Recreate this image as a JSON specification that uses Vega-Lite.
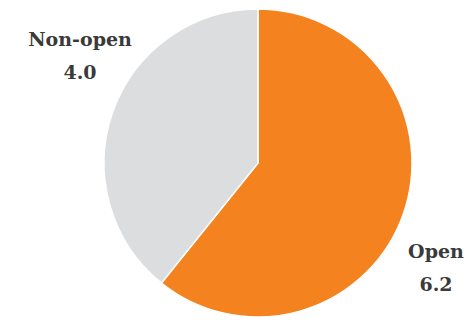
{
  "$schema": "https://vega.github.io/schema/vega-lite/v6.json",
  "autosize": "none",
  "width": 418,
  "height": 320,
  "padding": {"left": 49, "top": 3, "right": 0, "bottom": 0},
  "background": "white",
  "config": {"view": {"stroke": null}},
  "data": {
    "values": [
      {"category": "Open", "value": 6.2},
      {"category": "Non-open", "value": 4.0}
    ]
  },
  "layer": [
    {
      "mark": {"type": "arc", "outerRadius": 154, "stroke": "white", "strokeWidth": 1.5},
      "encoding": {
        "theta": {"field": "value", "type": "quantitative", "stack": true},
        "order": {"field": "value", "type": "quantitative", "sort": "descending"},
        "color": {
          "field": "category",
          "type": "nominal",
          "scale": {"domain": ["Open", "Non-open"], "range": ["#F4831F", "#DCDDDE"]},
          "legend": null
        }
      }
    },
    {
      "transform": [
        {"calculate": "datum.category + '\\n' + format(datum.value, '.1f')", "as": "label"}
      ],
      "mark": {
        "type": "text",
        "radius": 207,
        "align": "center",
        "baseline": "middle",
        "dy": -17,
        "lineBreak": "\n",
        "lineHeight": 33,
        "font": "DejaVu Serif",
        "fontWeight": "bold",
        "fontSize": 19,
        "color": "#3a3a3a"
      },
      "encoding": {
        "theta": {
          "field": "value",
          "type": "quantitative",
          "stack": true,
          "scale": {"range": [0.197, 6.4802]}
        },
        "order": {"field": "value", "type": "quantitative", "sort": "descending"},
        "text": {"field": "label", "type": "nominal"}
      }
    }
  ],
  "resolve": {"scale": {"theta": "independent"}}
}
